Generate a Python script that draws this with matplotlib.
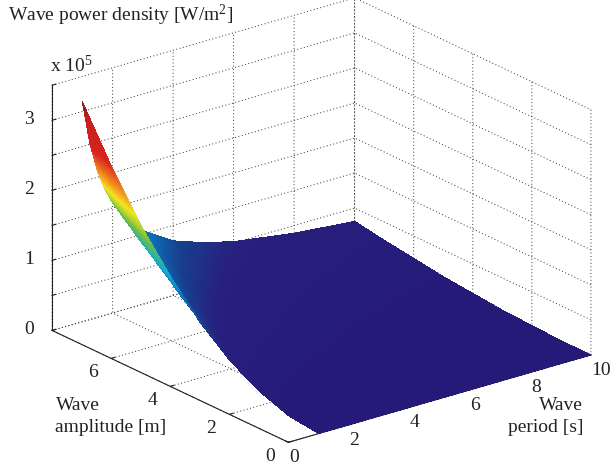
#!/usr/bin/env python3
"""Wave power density surface, read off the published figure."""
import numpy as np
import matplotlib
matplotlib.use("Agg")
import matplotlib.pyplot as plt
from matplotlib.colors import LinearSegmentedColormap

W, H = 613, 466

period_s = [1, 1.25, 1.5, 1.75, 2, 2.5, 3, 4, 5, 6, 8, 10]
amplitude_m = [0, 1, 2, 3, 4, 5, 6, 7, 8]
# power density in 1e5 W/m2, one row per amplitude
p_a0 = [0, 0, 0, 0, 0, 0, 0, 0, 0, 0, 0, 0]
p_a1 = [.05, .04, .03, .03, .02, .02, .02, .01, .01, .01, .01, .00]
p_a2 = [.20, .16, .13, .11, .10, .08, .07, .05, .04, .03, .02, .02]
p_a3 = [.44, .35, .29, .25, .22, .18, .15, .11, .09, .07, .06, .04]
p_a4 = [.78, .63, .52, .45, .39, .31, .26, .20, .16, .13, .10, .08]
p_a5 = [1.23, .98, .82, .70, .61, .49, .41, .31, .25, .20, .15, .12]
p_a6 = [1.76, 1.41, 1.18, 1.01, .88, .71, .59, .44, .35, .29, .22, .18]
p_a7 = [2.40, 1.92, 1.60, 1.37, 1.20, .96, .80, .60, .48, .40, .30, .24]
p_a8 = [3.14, 2.51, 2.09, 1.79, 1.57, 1.25, 1.05, .78, .63, .52, .39, .31]

x_ticks = [0, 2, 4, 6, 8, 10]
y_ticks = [0, 2, 4, 6, 8]
y_tick_labels = ["0", "2", "4", "6", ""]
z_ticks = [0, .5, 1, 1.5, 2, 2.5, 3, 3.5]
z_tick_labels = ["0", "", "1", "", "2", "", "3", ""]

plt.rcParams["font.family"] = ["Liberation Serif", "DejaVu Serif"]
plt.rcParams["mathtext.default"] = "regular"
plt.rcParams["grid.color"] = "#333333"
plt.rcParams["grid.linestyle"] = (0, (1, 2.5))
plt.rcParams["grid.linewidth"] = 0.7
plt.rcParams["axes.linewidth"] = 0.8
plt.rcParams["axes.edgecolor"] = "#222222"
plt.rcParams["text.color"] = "#222222"

# jet as it came out in print
jet_print = LinearSegmentedColormap.from_list("jet_print", [
    (0, "#261a78"), (.16, "#27207e"), (.24, "#17418f"), (.33, "#0a78c0"),
    (.39, "#10a5e0"), (.45, "#3ab68a"), (.5, "#6cbd45"), (.6, "#f4e61e"),
    (.68, "#f08a1e"), (.78, "#d8231f"), (.93, "#c8201f"), (1, "#7a1a1a")])

power = np.array([p_a0, p_a1, p_a2, p_a3, p_a4, p_a5, p_a6, p_a7, p_a8])

# the original uses interpolated shading, so split each table cell into facets
tt = np.linspace(period_s[0], period_s[-1], 360)
aa = np.linspace(amplitude_m[0], amplitude_m[-1], 200)
zz = np.array([np.interp(tt, period_s, row) for row in power])
zz = np.array([np.interp(aa, amplitude_m, col) for col in zz.T]).T
X, Y = np.meshgrid(tt, aa)

fig = plt.figure(figsize=(W/100, H/100), dpi=100)
S = 586
ax = fig.add_axes([20.6/W, (H-521)/H, S/W, S/H], projection="3d")
ax.set_proj_type("ortho")
ax.view_init(elev=21.7, azim=-128)
ax.set_box_aspect((384, 384, 264))
ax.patch.set_alpha(0)

ax.plot_surface(X, Y, zz, cmap=jet_print, vmin=0, vmax=3.14, shade=False,
                rcount=200, ccount=360, linewidth=0, antialiased=False)

ax.set_xlim(0, 10)
ax.set_ylim(0, 8)
ax.set_zlim(0, 3.5)
ax.set_xticks(x_ticks)
ax.set_yticks(y_ticks, y_tick_labels)
ax.set_zticks(z_ticks, z_tick_labels)

for axis in (ax.xaxis, ax.yaxis, ax.zaxis):
    axis.set_pane_color((1, 1, 1, 0))
    axis.pane.set_edgecolor("none")
    axis._axinfo["tick"]["inward_factor"] = 0.0
    axis._axinfo["tick"]["outward_factor"] = 0.15
    axis.set_tick_params(labelsize=14, pad=1.5, colors="#222222")

# labels sit up and to the left of where mplot3d puts them
for t in ax.xaxis.get_ticklabels()[:-1]:
    t.set_va("center")
    t.set_ha("right")
ax.xaxis.get_ticklabels()[-1].set_va("center")
ax.xaxis.get_ticklabels()[-1].set_ha("center")
for t in ax.yaxis.get_ticklabels():
    t.set_va("center")
    t.set_ha("right")
for t in ax.zaxis.get_ticklabels():
    t.set_va("center")
    t.set_ha("center")


def px_text(x, y, s, **kw):
    fig.text(x/W, 1-y/H, s, va="center", fontsize=14, **kw)


px_text(8, 15, "Wave power density [W/m$^{2}$]")
px_text(50, 65, "x 10$^{5}$")
px_text(56, 405, "Wave")
px_text(55, 427, "amplitude [m]")
px_text(583, 405, "Wave", ha="right")
px_text(583, 427, "period [s]", ha="right")

fig.savefig("out.png", dpi=100)
